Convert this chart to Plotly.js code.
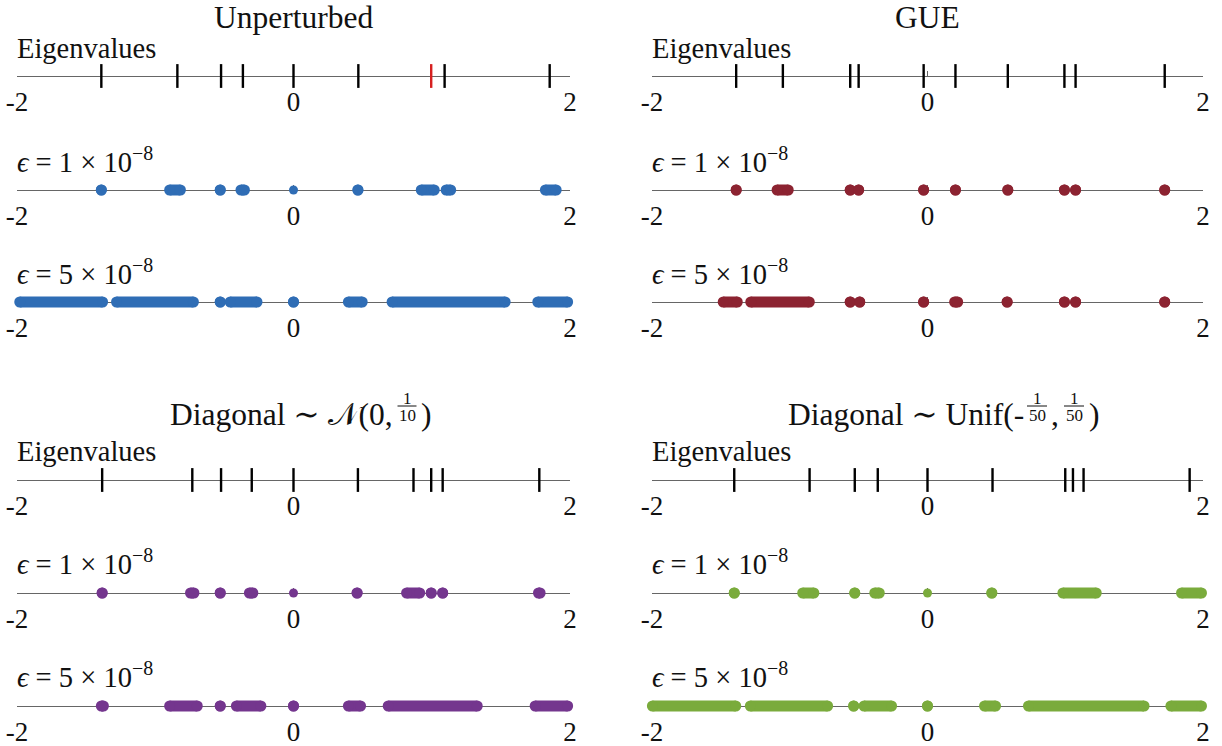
<!DOCTYPE html>
<html>
<head>
<meta charset="utf-8">
<script src="https://cdn.plot.ly/plotly-3.0.1.min.js"></script>
<style>html,body{margin:0;padding:0;background:#fff;}#chart{width:1222px;height:746px;}</style>
</head>
<body>
<div id="chart"></div>
<script>
// ---------- data ----------
const tickVals = [-2, 0, 2];
const tickText = ['-2', '0', '2'];

// Unperturbed
const unpertEig = [-1.39, -0.84, -0.524, -0.366, 0, 0.469, 1.093, 1.853];
const unpertEigRed = [0.996];
const unpertE1Start = [-1.39, -0.896, -0.53, -0.38, 0.466, 0.924, 1.104, 1.822];
const unpertE1End   = [-1.39, -0.818, -0.53, -0.355, 0.466, 1.018, 1.137, 1.900];
const unpertE1Small = [0];
const unpertE5Start = [-1.98, -1.28, -0.53, -0.458, 0, 0.397, 0.713, 1.767];
const unpertE5End   = [-1.381, -0.724, -0.53, -0.264, 0, 0.497, 1.531, 1.983];

// GUE
const gueEig = [-1.389, -1.05, -0.561, -0.5, -0.028, 0.203, 0.583, 0.994, 1.075, 1.722];
const gueE1Start = [-1.389, -1.092, -0.561, -0.5, -0.028, 0.203, 0.583, 0.994, 1.075, 1.722];
const gueE1End   = [-1.389, -1.011, -0.561, -0.5, -0.028, 0.203, 0.583, 0.994, 1.075, 1.722];
const gueE5Start = [-1.483, -1.283, -0.561, -0.492, -0.028, 0.197, 0.578, 0.994, 1.075, 1.722];
const gueE5End   = [-1.381, -0.858, -0.561, -0.492, -0.028, 0.219, 0.578, 0.994, 1.075, 1.722];

// Diagonal ~ N(0, 1/10)
const normEig = [-1.384, -0.732, -0.524, -0.302, 0, 0.466, 0.868, 0.996, 1.079, 1.778];
const normE1Start = [-1.384, -0.745, -0.53, -0.319, 0.46, 0.818, 0.996, 1.079, 1.772];
const normE1End   = [-1.384, -0.72, -0.53, -0.294, 0.46, 0.913, 0.996, 1.079, 1.784];
const normE1Small = [0];
const normE5Start = [-1.39, -0.896, -0.53, -0.413, 0, 0.397, 0.685, 1.748];
const normE5End   = [-1.375, -0.696, -0.53, -0.236, 0, 0.485, 1.329, 1.983];

// Diagonal ~ Unif(-1/50, 1/50)
const unifEig = [-1.403, -0.856, -0.528, -0.361, 0, 0.472, 1.0, 1.056, 1.133, 1.903];
const unifE1Start = [-1.403, -0.906, -0.528, -0.383, 0.467, 0.983, 1.844];
const unifE1End   = [-1.403, -0.825, -0.528, -0.35, 0.467, 1.225, 1.989];
const unifE1Small = [0];
const unifE5Start = [-1.997, -1.286, -0.536, -0.461, 0, 0.414, 0.733, 1.767];
const unifE5End   = [-1.392, -0.725, -0.536, -0.261, 0, 0.494, 1.572, 1.989];

const panelTitles = ['Unperturbed', 'GUE'];
const rowLabels = ['Eigenvalues', '<i>ϵ</i> = 1 × 10<sup>−8</sup>', '<i>ϵ</i> = 5 × 10<sup>−8</sup>'];
const colors = ['#2f6db5', '#8c2331', '#74368e', '#7aab3c'];

// ---------- layout geometry ----------
const W = 1222, H = 746;
const FONT = 'Liberation Serif, DejaVu Serif, serif';
const colPx = [[17, 570], [652, 1203]];
const rowPx = [[76, 190, 302], [480, 593, 706]];
const labelPx = [[48, 160, 272], [452, 562, 675]];
const halfH = 15;
const DOT = 11;

const panels = [
  {eig: unpertEig, red: unpertEigRed, e1s: unpertE1Start, e1e: unpertE1End, e1small: unpertE1Small, e5s: unpertE5Start, e5e: unpertE5End},
  {eig: gueEig, red: [], e1s: gueE1Start, e1e: gueE1End, e1small: [], e5s: gueE5Start, e5e: gueE5End},
  {eig: normEig, red: [], e1s: normE1Start, e1e: normE1End, e1small: normE1Small, e5s: normE5Start, e5e: normE5End},
  {eig: unifEig, red: [], e1s: unifE1Start, e1e: unifE1End, e1small: unifE1Small, e5s: unifE5Start, e5e: unifE5End}
];

function px2x(p) { return p / W; }
function px2y(p) { return 1 - p / H; }

function capsules(starts, ends) {
  const x = [], y = [];
  for (let i = 0; i < starts.length; i++) { x.push(starts[i], ends[i], null); y.push(0, 0, null); }
  return {x, y};
}

const data = [];
const layout = {
  width: W, height: H,
  margin: {l: 0, r: 0, t: 0, b: 0},
  paper_bgcolor: '#fff', plot_bgcolor: 'rgba(0,0,0,0)',
  showlegend: false,
  font: {family: FONT, color: '#111', size: 26},
  annotations: [], shapes: []
};

let axIdx = 0;
panels.forEach((p, pi) => {
  const col = pi % 2, row = Math.floor(pi / 2);
  const [x0, x1] = colPx[col];
  for (let r = 0; r < 3; r++) {
    axIdx++;
    const xn = axIdx === 1 ? 'xaxis' : 'xaxis' + axIdx;
    const yn = axIdx === 1 ? 'yaxis' : 'yaxis' + axIdx;
    const xr = axIdx === 1 ? 'x' : 'x' + axIdx;
    const yr = axIdx === 1 ? 'y' : 'y' + axIdx;
    const cy = rowPx[row][r];
    layout[xn] = {
      domain: [px2x(x0), px2x(x1)], anchor: 'free', position: px2y(cy),
      range: [-2, 2], tickmode: 'array', tickvals: tickVals, ticktext: tickText,
      ticks: 'inside', ticklen: 5, tickwidth: 1, tickcolor: '#666',
      showline: true, linecolor: '#666', linewidth: 1,
      showgrid: false, zeroline: false, fixedrange: true,
      tickfont: {family: FONT, size: 27, color: '#111'},
      ticklabelstandoff: 2,
      layer: 'below traces'
    };
    layout[yn] = {
      domain: [px2y(cy + halfH), px2y(cy - halfH)], anchor: xr,
      range: [-1, 1], visible: false, fixedrange: true
    };
    if (r === 0) {
      data.push({type: 'scatter', mode: 'markers', xaxis: xr, yaxis: yr, cliponaxis: false,
        x: p.eig, y: p.eig.map(() => 0), hoverinfo: 'x',
        marker: {symbol: 'line-ns-open', size: 17, color: '#000', line: {width: 2.4, color: '#000'}}});
      if (p.red.length) {
        data.push({type: 'scatter', mode: 'markers', xaxis: xr, yaxis: yr, cliponaxis: false,
          x: p.red, y: p.red.map(() => 0), hoverinfo: 'x',
          marker: {symbol: 'line-ns-open', size: 17, color: '#d62020', line: {width: 2.4, color: '#d62020'}}});
      }
    } else {
      const s = r === 1 ? p.e1s : p.e5s, e = r === 1 ? p.e1e : p.e5e;
      const c = capsules(s, e);
      data.push({type: 'scatter', mode: 'lines+markers', xaxis: xr, yaxis: yr, cliponaxis: false,
        x: c.x, y: c.y, connectgaps: false, hoverinfo: 'x',
        line: {color: colors[pi], width: DOT},
        marker: {color: colors[pi], size: DOT}});
      if (r === 1 && p.e1small.length) {
        data.push({type: 'scatter', mode: 'markers', xaxis: xr, yaxis: yr, cliponaxis: false,
          x: p.e1small, y: p.e1small.map(() => 0), hoverinfo: 'x',
          marker: {color: colors[pi], size: 9}});
      }
    }
    layout.annotations.push({xref: 'paper', yref: 'paper', x: px2x(x0 - 2), y: px2y(labelPx[row][r]),
      xanchor: 'left', yanchor: 'middle', showarrow: false, text: rowLabels[r],
      font: {family: FONT, size: 28.5, color: '#111'}});
  }
});

// Panel titles (top row)
[0, 1].forEach(col => {
  const [x0, x1] = colPx[col];
  layout.annotations.push({xref: 'paper', yref: 'paper', x: px2x((x0 + x1) / 2), y: px2y(17),
    xanchor: 'center', yanchor: 'middle', showarrow: false, text: panelTitles[col],
    font: {family: FONT, size: 31.5, color: '#111'}});
});

// Bottom titles with stacked fractions
function addText(t, xp, yp, anchor, size) {
  layout.annotations.push({xref: 'paper', yref: 'paper', x: px2x(xp), y: px2y(yp),
    xanchor: anchor, yanchor: 'middle', showarrow: false, text: t,
    font: {family: FONT, size: size, color: '#111'}});
}
function addFrac(num, den, cx, w) {
  addText(num, cx, 398, 'center', 17);
  addText(den, cx, 415, 'center', 17);
  layout.shapes.push({type: 'line', xref: 'paper', yref: 'paper',
    x0: px2x(cx - w / 2), x1: px2x(cx + w / 2), y0: px2y(406), y1: px2y(406),
    line: {color: '#111', width: 1}});
}
addText('Diagonal ∼ 𝒩(0,', 395, 414, 'right', 31.5);
addFrac('1', '10', 407, 19);
addText(')', 419, 414, 'left', 31.5);

addText('Diagonal ∼ Unif(-', 1026, 414, 'right', 31.5);
addFrac('1', '50', 1037, 20);
addText(',', 1049, 414, 'left', 31.5);
addFrac('1', '50', 1074, 20);
addText(')', 1087, 414, 'left', 31.5);

Plotly.newPlot('chart', data, layout, {staticPlot: true, displayModeBar: false});
</script>
</body>
</html>
